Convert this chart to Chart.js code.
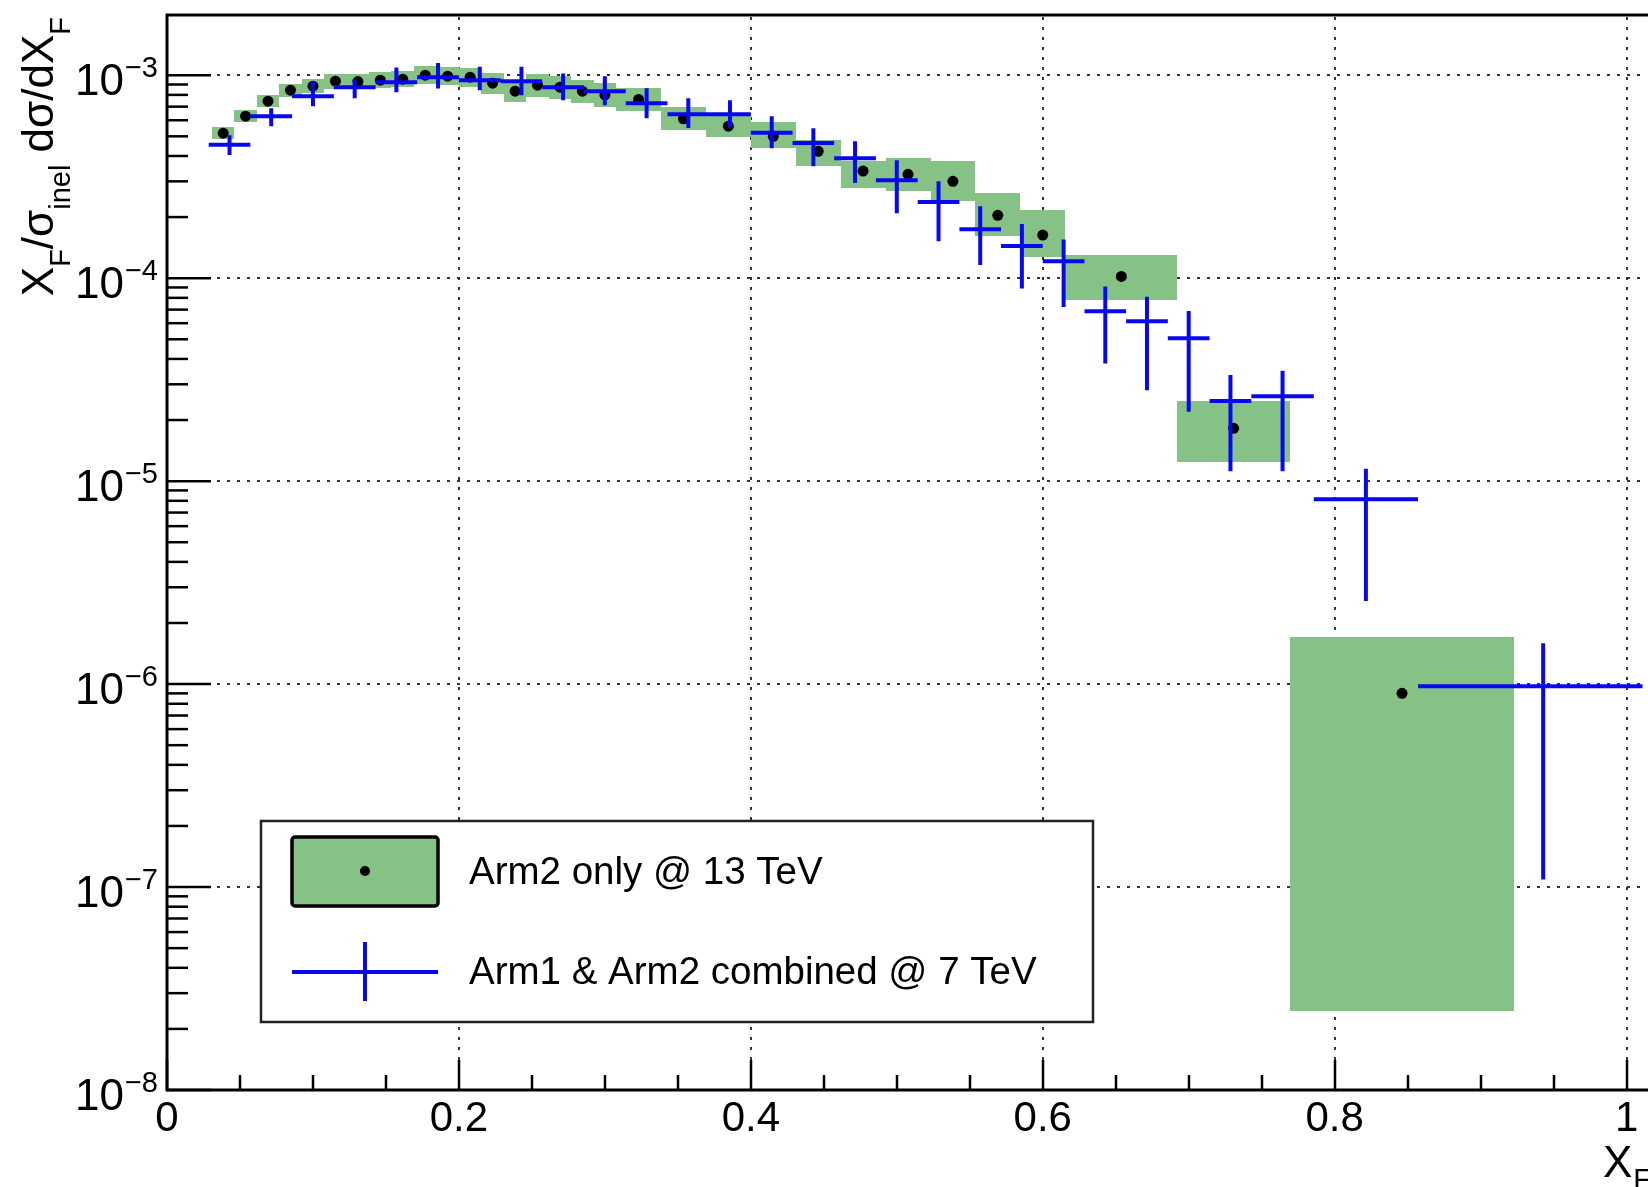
<!DOCTYPE html>
<html><head><meta charset="utf-8">
<script src="https://cdn.jsdelivr.net/npm/chart.js@4.4.1/dist/chart.umd.min.js"></script>
<style>html,body{margin:0;padding:0;background:#fff;overflow:hidden}#wrap{width:1648px;height:1187px;position:relative}</style>
</head><body><div id="wrap"><canvas id="c" width="1648" height="1187"></canvas></div>
<script>
// ---- 13 TeV, Arm2 only: bin edges (x_F), values, systematic box bounds
const edges13 = [0.0308,0.0462,0.0615,0.0769,0.0923,0.1077,0.1231,0.1385,0.1538,0.1692,0.1846,0.2000,0.2154,0.2308,0.2462,0.2615,0.2769,0.2923,0.3077,0.3385,0.3692,0.4000,0.4308,0.4615,0.4923,0.5231,0.5538,0.5846,0.6154,0.6923,0.7692,0.9231];
const v13  = [5.18e-4,6.28e-4,7.45e-4,8.44e-4,8.83e-4,9.34e-4,9.30e-4,9.45e-4,9.56e-4,1.00e-3,9.89e-4,9.78e-4,9.13e-4,8.34e-4,8.93e-4,8.73e-4,8.34e-4,8.00e-4,7.60e-4,6.10e-4,5.61e-4,5.00e-4,4.22e-4,3.37e-4,3.25e-4,3.00e-4,2.04e-4,1.63e-4,1.02e-4,1.82e-5,9.0e-7];
const lo13 = [4.85e-4,5.85e-4,6.95e-4,7.85e-4,8.15e-4,8.60e-4,8.55e-4,8.65e-4,8.70e-4,9.05e-4,8.90e-4,8.75e-4,8.10e-4,7.35e-4,7.85e-4,7.65e-4,7.30e-4,6.95e-4,6.65e-4,5.40e-4,4.95e-4,4.40e-4,3.56e-4,2.77e-4,2.68e-4,2.40e-4,1.62e-4,1.27e-4,7.8e-5,1.24e-5,2.45e-8];
const hi13 = [5.55e-4,6.75e-4,8.00e-4,9.10e-4,9.55e-4,1.015e-3,1.015e-3,1.035e-3,1.05e-3,1.105e-3,1.095e-3,1.09e-3,1.025e-3,9.45e-4,1.015e-3,9.95e-4,9.50e-4,9.15e-4,8.65e-4,6.95e-4,6.50e-4,5.90e-4,4.79e-4,3.77e-4,3.90e-4,3.77e-4,2.62e-4,2.16e-4,1.30e-4,2.48e-5,1.70e-6];

// ---- 7 TeV, Arm1 & Arm2 combined: bin edges (x_F), values, error bar bounds
const edges7 = [0.0286,0.0571,0.0857,0.1143,0.1429,0.1714,0.2000,0.2286,0.2571,0.2857,0.3143,0.3429,0.3714,0.4000,0.4286,0.4571,0.4857,0.5143,0.5429,0.5714,0.6000,0.6286,0.6571,0.6857,0.7143,0.7429,0.7857,0.8571,1.0286];
const v7  = [4.54e-4,6.28e-4,7.88e-4,8.73e-4,9.24e-4,9.78e-4,9.45e-4,9.34e-4,8.73e-4,8.34e-4,7.28e-4,6.42e-4,6.42e-4,5.20e-4,4.63e-4,3.90e-4,3.04e-4,2.37e-4,1.74e-4,1.44e-4,1.21e-4,6.87e-5,6.13e-5,5.06e-5,2.48e-5,2.62e-5,8.15e-6,9.77e-7];
const lo7 = [4.04e-4,5.61e-4,7.03e-4,7.70e-4,8.24e-4,8.60e-4,8.44e-4,7.97e-4,7.53e-4,7.12e-4,6.14e-4,5.49e-4,5.49e-4,4.37e-4,3.56e-4,2.94e-4,2.09e-4,1.52e-4,1.16e-4,8.9e-5,7.2e-5,3.8e-5,2.8e-5,2.2e-5,1.12e-5,1.12e-5,2.57e-6,1.09e-7];
const hi7 = [5.06e-4,6.88e-4,9.34e-4,9.56e-4,1.09e-3,1.15e-3,1.10e-3,1.10e-3,1.02e-3,9.89e-4,8.63e-4,7.70e-4,7.53e-4,6.28e-4,5.48e-4,4.73e-4,3.81e-4,3.00e-4,2.26e-4,1.85e-4,1.55e-4,9.1e-5,8.1e-5,6.9e-5,3.33e-5,3.5e-5,1.15e-5,1.59e-6];

// ---- axes / ticks / labels
const xTicks = [0,0.2,0.4,0.6,0.8,1.0];
const xTickLabels = ['0','0.2','0.4','0.6','0.8','1'];
const xMinorStep = 0.05;
const yTickExps = [-3,-4,-5,-6,-7,-8];
const xRange = [0, 1.0109];
const yRange = [1e-8, 1.98e-3];
const legendLabels = ['Arm2 only @ 13 TeV','Arm1 & Arm2 combined @ 7 TeV'];

const GREEN = 'rgb(134,194,133)';
const BLUE = 'rgb(8,8,240)';
const FONT = '"Liberation Sans", Arial, Helvetica, sans-serif';

const centers13 = v13.map((_, i) => (edges13[i] + edges13[i+1]) / 2);
const centers7 = v7.map((_, i) => (edges7[i] + edges7[i+1]) / 2);

const dots13 = v13.map((v, i) => ({x: centers13[i], y: v}));
const cross7 = [];
v7.forEach((v, i) => {
  const c = centers7[i];
  cross7.push({x: edges7[i], y: v}, {x: edges7[i+1], y: v}, {x: c, y: null});
  cross7.push({x: c, y: lo7[i]}, {x: c, y: hi7[i]}, {x: c, y: null});
});

const rootPlugin = {
  id: 'rootStyle',
  beforeDatasetsDraw(chart) {
    const {ctx, chartArea: a, scales: {x, y}} = chart;
    ctx.save();
    ctx.beginPath(); ctx.rect(a.left, a.top, a.right - a.left, a.bottom - a.top); ctx.clip();
    // dotted grid
    ctx.strokeStyle = '#333'; ctx.lineWidth = 2; ctx.setLineDash([3, 7]);
    xTicks.forEach(v => {
      if (v === 0) return;
      const px = Math.round(x.getPixelForValue(v));
      ctx.beginPath(); ctx.moveTo(px, a.bottom); ctx.lineTo(px, a.top); ctx.stroke();
    });
    yTickExps.forEach(e => {
      if (e === -8) return;
      const py = Math.round(y.getPixelForValue(Math.pow(10, e)));
      ctx.beginPath(); ctx.moveTo(a.left, py); ctx.lineTo(a.right, py); ctx.stroke();
    });
    ctx.setLineDash([]);
    // systematic boxes
    ctx.fillStyle = GREEN;
    v13.forEach((v, i) => {
      const x0 = Math.round(x.getPixelForValue(edges13[i]));
      const x1 = Math.round(x.getPixelForValue(edges13[i+1]));
      const y0 = Math.round(y.getPixelForValue(hi13[i]));
      const y1 = Math.round(y.getPixelForValue(lo13[i]));
      ctx.fillRect(x0, y0, x1 - x0, y1 - y0);
    });
    ctx.restore();
  },
  afterDatasetsDraw(chart) {
    const {ctx, chartArea: a, scales: {x, y}} = chart;
    ctx.save();
    ctx.strokeStyle = '#000'; ctx.lineWidth = 2.5;
    // ticks x
    for (let k = 0; k <= Math.floor(xRange[1] / xMinorStep + 1e-6); k++) {
      const v = k * xMinorStep;
      const major = Math.abs(v / 0.2 - Math.round(v / 0.2)) < 1e-6;
      const px = Math.round(x.getPixelForValue(v));
      ctx.beginPath(); ctx.moveTo(px, a.bottom); ctx.lineTo(px, a.bottom - (major ? 30 : 15)); ctx.stroke();
    }
    // ticks y
    const yMax = y.max;
    yTickExps.forEach(e => {
      const base = Math.pow(10, e);
      const py = y.getPixelForValue(base);
      ctx.beginPath(); ctx.moveTo(a.left, py); ctx.lineTo(a.left + 44, py); ctx.stroke();
      for (let m = 2; m <= 9; m++) {
        const val = m * base;
        if (val > yMax) break;
        const pm = y.getPixelForValue(val);
        ctx.beginPath(); ctx.moveTo(a.left, pm); ctx.lineTo(a.left + 21, pm); ctx.stroke();
      }
    });
    // frame
    ctx.lineWidth = 3;
    ctx.beginPath();
    ctx.moveTo(chart.width + 5, a.top); ctx.lineTo(a.left, a.top); ctx.lineTo(a.left, a.bottom); ctx.lineTo(chart.width + 5, a.bottom);
    ctx.stroke();
    ctx.restore();
  },
  afterDraw(chart) {
    const {ctx, chartArea: a, scales: {x, y}} = chart;
    ctx.save();
    ctx.fillStyle = '#000';
    // y tick labels 10^n
    yTickExps.forEach(e => {
      const py = y.getPixelForValue(Math.pow(10, e));
      ctx.font = '29px ' + FONT;
      const sup = '\u2212' + Math.abs(e);
      const ws = ctx.measureText(sup).width;
      const sx = a.left - 9 - ws;
      ctx.textAlign = 'left'; ctx.textBaseline = 'alphabetic';
      ctx.fillText(sup, sx, py + 2);
      ctx.font = '44px ' + FONT;
      ctx.textAlign = 'right';
      ctx.fillText('10', sx - 1, py + 20);
    });
    // y title (rotated)
    const parts = [['X',0],['F',1],['/\u03c3',0],['inel',1],[' d\u03c3/dX',0],['F',1]];
    const big = '44px ' + FONT, small = '29px ' + FONT;
    let total = 0;
    parts.forEach(p => { ctx.font = p[1] ? small : big; total += ctx.measureText(p[0]).width; });
    ctx.save();
    ctx.translate(53, 17 + total);
    ctx.rotate(-Math.PI / 2);
    ctx.textAlign = 'left'; ctx.textBaseline = 'alphabetic';
    let cx = 0;
    parts.forEach(p => {
      ctx.font = p[1] ? small : big;
      ctx.fillText(p[0], cx, p[1] ? 17 : 0);
      cx += ctx.measureText(p[0]).width;
    });
    ctx.restore();
    // x title
    ctx.textAlign = 'left'; ctx.textBaseline = 'alphabetic';
    ctx.font = big; ctx.fillText('X', 1603, 1177);
    const wx = ctx.measureText('X').width;
    ctx.font = small; ctx.fillText('F', 1603 + wx + 1, 1189);
    // legend
    const L = {x: 261, y: 821, w: 832, h: 201};
    ctx.fillStyle = '#fff'; ctx.fillRect(L.x, L.y, L.w, L.h);
    ctx.strokeStyle = '#222'; ctx.lineWidth = 2.5; ctx.strokeRect(L.x, L.y, L.w, L.h);
    // entry 1
    ctx.fillStyle = GREEN; ctx.strokeStyle = '#000'; ctx.lineWidth = 3.5;
    ctx.beginPath(); ctx.roundRect(292, 837, 146, 69, 3); ctx.fill(); ctx.stroke();
    ctx.fillStyle = '#000'; ctx.beginPath(); ctx.arc(365, 871, 5, 0, Math.PI * 2); ctx.fill();
    // entry 2
    ctx.strokeStyle = BLUE; ctx.lineWidth = 4;
    ctx.beginPath(); ctx.moveTo(292, 972); ctx.lineTo(438, 972); ctx.moveTo(365, 942); ctx.lineTo(365, 1001); ctx.stroke();
    ctx.fillStyle = '#000'; ctx.font = '38.5px ' + FONT; ctx.textAlign = 'left';
    ctx.fillText(legendLabels[0], 469, 884);
    ctx.fillText(legendLabels[1], 469, 984);
    ctx.restore();
  }
};

new Chart(document.getElementById('c'), {
  type: 'scatter',
  data: {
    datasets: [
      {label: legendLabels[1], data: cross7, showLine: true, spanGaps: false, borderColor: BLUE, borderWidth: 4,
       pointRadius: 0, pointHoverRadius: 0, order: 0, borderCapStyle: 'butt'},
      {label: legendLabels[0], data: dots13, showLine: false, pointRadius: 5.5, pointBackgroundColor: '#000',
       pointBorderColor: '#000', pointBorderWidth: 0, order: 1}
    ]
  },
  options: {
    responsive: false, animation: false, devicePixelRatio: 1,
    layout: {padding: {top: 15, left: 0, right: 0, bottom: 0}},
    plugins: {legend: {display: false}, tooltip: {enabled: false}},
    scales: {
      x: {
        type: 'linear', min: xRange[0], max: xRange[1],
        afterFit: s => { s.height = 97; },
        afterBuildTicks: s => { s.ticks = xTicks.map(v => ({value: v})); },
        grid: {display: false, drawTicks: false}, border: {display: false},
        ticks: {
          color: '#000', padding: 4, maxRotation: 0, autoSkip: false,
          font: {family: FONT, size: 42},
          callback: (v) => { const i = xTicks.findIndex(t => Math.abs(t - v) < 1e-9); return i >= 0 ? xTickLabels[i] : ''; }
        }
      },
      y: {
        type: 'logarithmic', min: yRange[0], max: yRange[1],
        afterFit: s => { s.width = 167; },
        afterBuildTicks: s => { s.ticks = yTickExps.map(e => ({value: Math.pow(10, e)})); },
        grid: {display: false, drawTicks: false}, border: {display: false},
        ticks: {display: false}
      }
    }
  },
  plugins: [rootPlugin]
});
</script></body></html>
